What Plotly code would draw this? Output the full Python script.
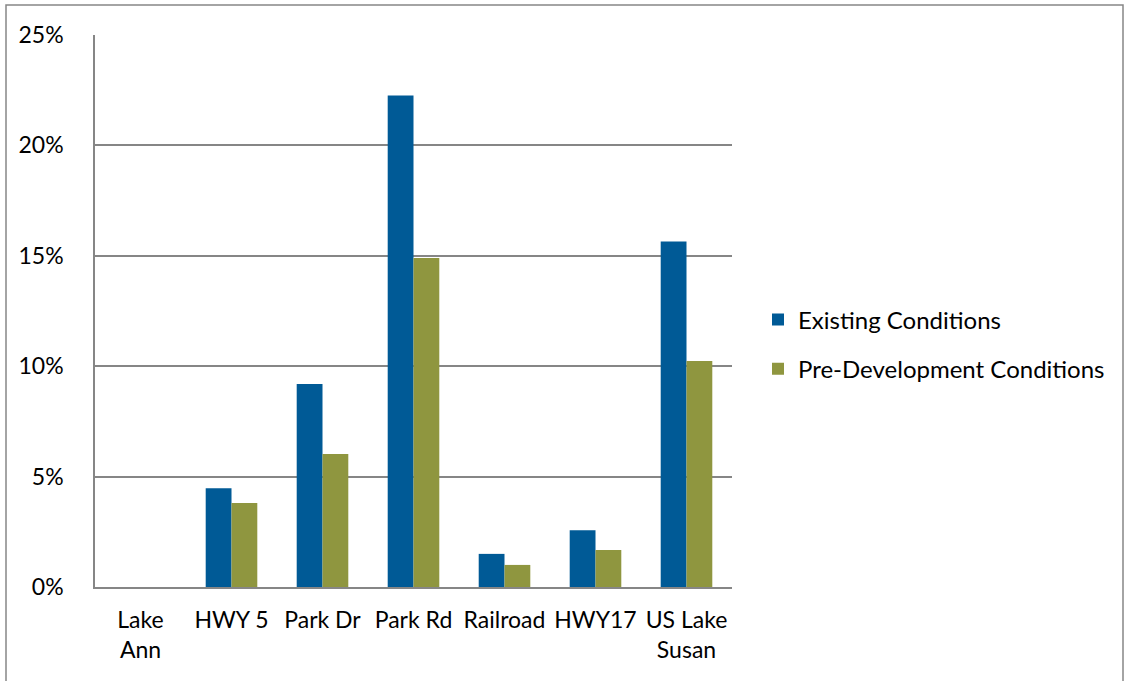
import plotly.graph_objects as go

categories = ["Lake<br>Ann", "HWY 5", "Park Dr", "Park Rd", "Railroad", "HWY17", "US Lake<br>Susan"]
existing = [0.0, 4.47, 9.19, 22.26, 1.50, 2.57, 15.65]
pre_dev = [0.0, 3.81, 6.02, 14.90, 1.00, 1.68, 10.23]
y_ticks = [0, 5, 10, 15, 20, 25]
y_tick_labels = ["0%", "5%", "10%", "15%", "20%", "25%"]

FONT = "Lato"
FS = 23

fig = go.Figure()
fig.add_trace(go.Bar(
    x=categories, y=existing, name="Existing Conditions",
    marker=dict(color="#005A96", line=dict(width=0)),
    legendgroup="a",
))
fig.add_trace(go.Bar(
    x=categories, y=pre_dev, name="Pre-Development Conditions",
    marker=dict(color="#8F963F", line=dict(width=0)),
    legendgroup="b",
))

fig.update_layout(
    width=1124, height=681,
    margin=dict(l=95, r=392, t=35, b=94),
    plot_bgcolor="white", paper_bgcolor="white",
    barmode="group", bargap=0.433, bargroupgap=0,
    font=dict(family=FONT, size=FS, color="black"),
    showlegend=True,
    legend=dict(
        x=(758 - 95) / 637, y=(587 - 344.5) / 552, xanchor="left", yanchor="middle",
        font=dict(family=FONT, size=24, color="black"),
        traceorder="grouped", tracegroupgap=15,
        itemwidth=30, bgcolor="rgba(0,0,0,0)",
    ),
    xaxis=dict(
        showgrid=False, showline=True, linecolor="#868686", linewidth=1.5,
        ticks="", tickfont=dict(family=FONT, size=FS), fixedrange=True,
        ticklabelstandoff=12,
    ),
    yaxis=dict(
        range=[0, 25], tickvals=y_ticks, ticktext=y_tick_labels,
        showgrid=True, gridcolor="#868686", gridwidth=1.5,
        showline=True, linecolor="#868686", linewidth=1.5,
        ticks="", ticklen=0, tickfont=dict(family=FONT, size=FS),
        zeroline=False, ticklabelstandoff=25,
    ),
    shapes=[dict(type="rect", xref="paper", yref="paper",
                 x0=(6 - 95) / 637, x1=(1123 - 95) / 637,
                 y0=(587 - 690) / 552, y1=(587 - 5) / 552,
                 line=dict(color="#868686", width=1.5), fillcolor="rgba(0,0,0,0)", layer="below")],
)

fig.write_html("out.html")
